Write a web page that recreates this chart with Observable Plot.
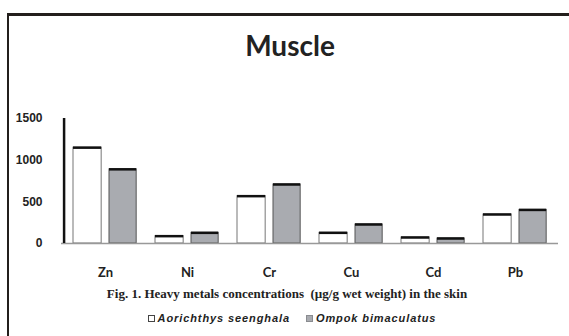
<!DOCTYPE html>
<html>
<head>
<meta charset="utf-8">
<script src="https://cdn.jsdelivr.net/npm/d3@7"></script>
<script src="https://cdn.jsdelivr.net/npm/@observablehq/plot@0.6"></script>
<style>
  html, body { margin: 0; padding: 0; background: #fff; }
  #page { position: relative; width: 569px; height: 336px; overflow: hidden; background: #fff; }
  #frame { position: absolute; left: 7px; top: 13px; width: 570px; height: 340px;
           border-top: 3px solid #231f1c; border-left: 2px solid #231f1c; }
  #title { position: absolute; left: 0; width: 580px; top: 30px; text-align: center;
           font: bold 28px Lato, sans-serif; color: #222; line-height: 30px; }
  #chart { position: absolute; left: 0; top: 100px; }
  #caption { position: absolute; left: 0; width: 574px; top: 287px; text-align: center;
             font: bold 13px "Liberation Serif", serif; color: #222; line-height: 14px; white-space: pre; }
  #legend { position: absolute; left: 0; width: 584px; top: 311px; text-align: center;
            font: italic bold 11px "Liberation Sans", sans-serif; letter-spacing: 0.9px; color: #222; line-height: 14px; white-space: nowrap; }
  .sw { display: inline-block; width: 7px; height: 7px; margin-right: 3px; vertical-align: 0px; box-sizing: border-box; }
  .item { margin: 0 8px; }
</style>
</head>
<body>
<div id="page">
  <div id="frame"></div>
  <div id="title"></div>
  <div id="chart"></div>
  <div id="caption"></div>
  <div id="legend"></div>
</div>
<script>
const titleText = "Muscle";
const captionText = "Fig. 1. Heavy metals concentrations  (\u00b5g/g wet weight) in the skin";
const metals = ["Zn", "Ni", "Cr", "Cu", "Cd", "Pb"];
const seriesNames = ["Aorichthys seenghala", "Ompok bimaculatus"];
const aorichthys = [1150, 88, 568, 128, 72, 348];
const ompok = [890, 128, 708, 228, 60, 403];
const yTicks = [0, 500, 1000, 1500];
const colors = ["#ffffff", "#a9abb0"];

document.getElementById("title").textContent = titleText;
document.getElementById("caption").textContent = captionText;

const dataA = metals.map((m, i) => ({metal: m, value: aorichthys[i]}));
const dataB = metals.map((m, i) => ({metal: m, value: ompok[i]}));

const W = 569, H = 183, ML = 61, MR = 11;
const band = (W - ML - MR) / metals.length; // ~82.8
const insA = {insetLeft: 9, insetRight: band - 38};
const insB = {insetLeft: 45, insetRight: band - 73};

const plot = Plot.plot({
  width: W,
  height: H,
  marginLeft: ML,
  marginRight: MR,
  marginTop: 18,
  marginBottom: 40,
  style: {fontFamily: "Lato, sans-serif", color: "#222", background: "transparent"},
  x: {domain: metals, padding: 0, label: null},
  y: {domain: [0, 1500], label: null},
  marks: [
    Plot.barY(dataA, {x: "metal", y: "value", fill: colors[0], stroke: "#777", strokeWidth: 1, ...insA}),
    Plot.barY(dataB, {x: "metal", y: "value", fill: colors[1], stroke: "#555", strokeWidth: 1, ...insB}),
    Plot.tickY(dataA, {x: "metal", y: "value", stroke: "#111", strokeWidth: 2.5, ...insA}),
    Plot.tickY(dataB, {x: "metal", y: "value", stroke: "#111", strokeWidth: 2.5, ...insB}),
    Plot.ruleY([0], {stroke: "#999", strokeWidth: 1.5}),
    Plot.ruleX([metals[0]], {y1: 0, y2: 1500, stroke: "#111", strokeWidth: 2.5, dx: -band / 2}),
    Plot.axisY({ticks: yTicks, tickSize: 0, tickPadding: 19, tickFormat: d => String(d),
                fontSize: 12, fontWeight: "bold", fontFamily: "Liberation Sans Narrow, Liberation Sans, sans-serif", fill: "#222"}),
    Plot.axisX({tickSize: 0, tickPadding: 24, fontSize: 13, fontWeight: "bold", fill: "#222"})
  ]
});
document.getElementById("chart").appendChild(plot);

const legend = document.getElementById("legend");
seriesNames.forEach((name, i) => {
  const span = document.createElement("span");
  span.className = "item";
  const sw = document.createElement("span");
  sw.className = "sw";
  sw.style.background = colors[i];
  sw.style.border = i === 0 ? "1px solid #444" : "1px solid #8a8c90";
  span.appendChild(sw);
  span.appendChild(document.createTextNode(name));
  legend.appendChild(span);
});
</script>
</body>
</html>
